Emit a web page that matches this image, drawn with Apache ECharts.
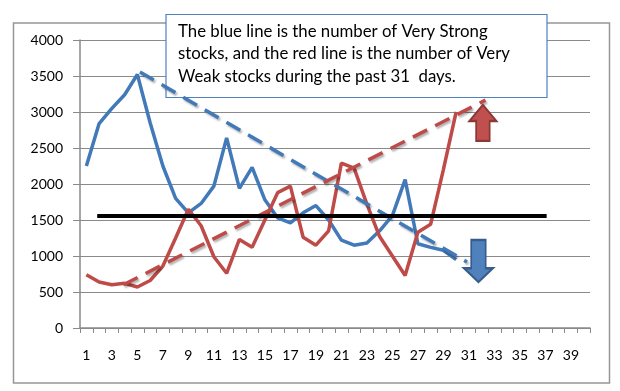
<!DOCTYPE html>
<html>
<head>
<meta charset="utf-8">
<style>
  html, body { margin: 0; padding: 0; background: #fff; }
  #chart { width: 620px; height: 391px; }
</style>
<script src="https://cdn.jsdelivr.net/npm/echarts@6/dist/echarts.min.js"></script>
</head>
<body>
<div id="chart"></div>
<script>
const days = ["1","2","3","4","5","6","7","8","9","10","11","12","13","14","15","16","17","18","19","20",
  "21","22","23","24","25","26","27","28","29","30","31","32","33","34","35","36","37","38","39","40"];
const veryStrong = [2250,2840,3050,3240,3520,2850,2250,1800,1600,1730,1970,2640,1940,2230,1780,1530,1460,1600,1700,1500,
  1220,1150,1180,1350,1560,2060,1170,1120,1080,950];
const veryWeak = [740,640,600,620,570,660,860,1250,1650,1420,990,760,1230,1120,1500,1880,1970,1260,1150,1350,
  2290,2220,1720,1270,1000,730,1330,1440,2200,3000];
const yTicks = { min: 0, max: 4000, interval: 500 };

// hand-drawn annotations, [day, value]
const blueTrend = [[5.2,3555],[30.85,917]];
const redTrend = [[3.9,600],[32.3,3165]];
const blackLevel = [[1.85,1555],[37.1,1555]];
const upArrowAt = [[32.1,2850]];
const downArrowAt = [[31.75,930]];
const noteLines = [
  "The blue line is the number of Very Strong",
  "stocks, and the red line is the number of Very",
  "Weak stocks during the past 31  days."
];

const FONT = "Lato, 'Open Sans', sans-serif";
const GRID = "#8a8a8a";
const BLUE = "#4279b8";
const RED = "#be4b48";

const chart = echarts.init(document.getElementById("chart"), null, { renderer: "canvas" });

const annotationLine = (data, color, dashed, width) => ({
  type: "line",
  xAxisIndex: 1,
  data: data,
  symbol: "none",
  z: 4,
  lineStyle: dashed
    ? { color: color, width: width, type: [16, 9], shadowColor: "rgba(0,0,0,0.3)", shadowBlur: 2, shadowOffsetX: 1.5, shadowOffsetY: 2 }
    : { color: color, width: width }
});

chart.setOption({
  animation: false,
  backgroundColor: "#fff",
  grid: { left: 80, right: 30, top: 40, bottom: 63 },
  xAxis: [
    {
      type: "category",
      data: days,
      boundaryGap: true,
      axisLine: { lineStyle: { color: GRID, width: 1.5 } },
      axisTick: { show: true, interval: 0, length: 5, lineStyle: { color: GRID } },
      axisLabel: { interval: 1, color: "#000", fontFamily: FONT, fontSize: 14, margin: 20 }
    },
    { type: "value", min: 0.5, max: 40.5, show: false }
  ],
  yAxis: {
    type: "value",
    min: yTicks.min,
    max: yTicks.max,
    interval: yTicks.interval,
    axisLine: { show: true, lineStyle: { color: GRID, width: 1.5 } },
    axisTick: { show: true, length: 7, lineStyle: { color: GRID } },
    axisLabel: { color: "#000", fontFamily: FONT, fontSize: 14, margin: 17, formatter: (v) => String(v) },
    splitLine: { show: true, lineStyle: { color: GRID, width: 1 } }
  },
  series: [
    { type: "line", name: "Very Strong", data: veryStrong, symbol: "none", z: 3, lineStyle: { color: BLUE, width: 3.5 } },
    { type: "line", name: "Very Weak", data: veryWeak, symbol: "none", z: 3, lineStyle: { color: RED, width: 3.5 } },
    annotationLine(blueTrend, BLUE, true, 3.5),
    annotationLine(redTrend, RED, true, 3.5),
    annotationLine(blackLevel, "#000", false, 4),
    {
      type: "scatter",
      xAxisIndex: 1,
      data: upArrowAt,
      symbol: "path://M50 0 L100 45 L75 45 L75 100 L25 100 L25 45 L0 45 Z",
      symbolSize: [27, 36],
      symbolKeepAspect: false,
      z: 5,
      itemStyle: { color: "#c0504d", borderColor: "#8c3836", borderWidth: 2, opacity: 1 }
    },
    {
      type: "scatter",
      xAxisIndex: 1,
      data: downArrowAt,
      symbol: "path://M25 0 L75 0 L75 67 L100 67 L50 100 L0 67 L25 67 Z",
      symbolSize: [29, 42],
      symbolKeepAspect: false,
      z: 5,
      itemStyle: { color: "#4f81bd", borderColor: "#385d8a", borderWidth: 2, opacity: 1 }
    }
  ],
  graphic: [
    { type: "rect", z: 1, shape: { x: 13.5, y: 23, width: 596, height: 360 }, style: { fill: "none", stroke: "#969696", lineWidth: 1.5 } },
    { type: "rect", z: 1, shape: { x: 166, y: 14.5, width: 381, height: 83 }, style: { fill: "#fff", stroke: "#4f81bd", lineWidth: 1.2 } },
    { type: "text", z: 2, x: 178, y: 20, style: { text: noteLines.join("\n"), font: "16.8px " + FONT, lineHeight: 22.5, fill: "#000" } }
  ]
});
</script>
</body>
</html>
